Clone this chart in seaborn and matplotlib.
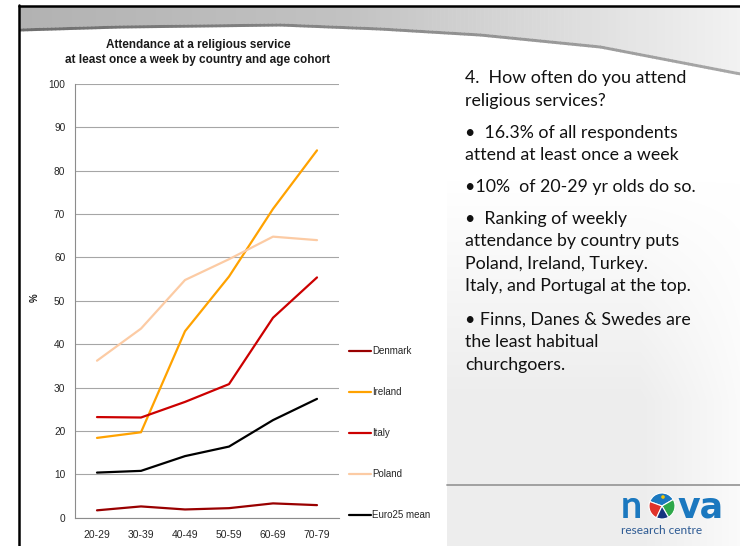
import numpy as np
import pandas as pd
import matplotlib
matplotlib.use("Agg")
import matplotlib.pyplot as plt
from matplotlib.patches import Wedge, Circle
from matplotlib.colors import LinearSegmentedColormap
import seaborn as sns

# data (% attending weekly)
cohorts = ["20-29", "30-39", "40-49", "50-59", "60-69", "70-79"]
denmark = [1.7, 2.6, 1.9, 2.2, 3.3, 2.9]
ireland = [18.4, 19.7, 43.0, 55.6, 71.2, 84.7]
italy = [23.2, 23.1, 26.7, 30.8, 46.1, 55.4]
poland = [36.2, 43.6, 54.8, 59.6, 64.8, 64.0]
euro25 = [10.4, 10.8, 14.2, 16.4, 22.5, 27.4]

countries = ["Denmark", "Ireland", "Italy", "Poland", "Euro25 mean"]
colors = ["#990000", "#FFA200", "#CC0000", "#FCCBA4", "#000000"]

bullets = [
    ("4.  How often do you attend", 78),
    ("religious services?", 101),
    ("\u2022  16.3% of all respondents", 133),
    ("attend at least once a week", 155),
    ("\u202210%  of 20-29 yr olds do so.", 187),
    ("\u2022  Ranking of weekly", 219),
    ("attendance by country puts", 241),
    ("Poland, Ireland, Turkey.", 264),
    ("Italy, and Portugal at the top.", 286),
    ("\u2022 Finns, Danes & Swedes are", 320),
    ("the least habitual", 342),
    ("churchgoers.", 365),
]

rows = []
for name, vals in zip(countries, [denmark, ireland, italy, poland, euro25]):
    for c, v in zip(cohorts, vals):
        rows.append({"cohort": c, "value": v, "country": name})
df = pd.DataFrame(rows)

sns.set_theme(style="white")
plt.rcParams["font.family"] = ["Liberation Sans", "DejaVu Sans"]

W, H = 740, 546
fig = plt.figure(figsize=(W / 100, H / 100), dpi=100)
fig.patch.set_facecolor("white")

# ---- slide background ----
bg = fig.add_axes([0, 0, 1, 1], zorder=-5)
bg.set_xlim(0, W)
bg.set_ylim(H, 0)
bg.set_autoscale_on(False)
bg.axis("off")

# faint grey panel behind the text on the right
yy, xx = np.mgrid[0:H, 0:W]
alpha = np.clip((yy - 180) / 220.0, 0, 1) * (1 - 0.75 * np.clip((xx - 640) / 100.0, 0, 1))
alpha[:, :447] = 0
panel = np.zeros((H, W, 4))
panel[..., :3] = 0.93
panel[..., 3] = alpha
bg.imshow(panel, extent=(0, W, H, 0), aspect="auto", zorder=0)

# header swoosh, drawn as thin vertical strips
cx = np.array([19, 120, 280, 380, 480, 600, 740])
cy = np.array([28, 25, 23, 27, 33, 45, 72])
band_cmap = LinearSegmentedColormap.from_list(
    "sw", [(0, "#b2b2b2"), (0.45, "#c2c2c2"), (0.75, "#dcdcdc"), (1, "#f2f2f2")])
stroke_cmap = LinearSegmentedColormap.from_list("st", ["#6e6e6e", "#8a8a8a", "#a8a8a8"])
edges = np.linspace(19, 740, 181)
for x0, x1 in zip(edges[:-1], edges[1:]):
    xs = np.array([x0, x1 + 0.6])
    ys = np.interp(xs, cx, cy)
    t = (x0 - 19) / 721
    bg.fill_between(xs, 6, ys, color=band_cmap(t), lw=0, zorder=1)
    bg.fill_between(xs, ys, ys + 3, color=stroke_cmap(t), lw=0, zorder=2)

# black frame
bg.plot([18.5, 740], [5.5, 5.5], color="black", lw=1.8, zorder=3)
bg.plot([18.5, 18.5], [5, H], color="black", lw=1.8, zorder=3)

# separator line above the logo
bg.plot([447, 740], [485, 485], color="#9a9a9a", lw=1.3, zorder=3)

# ---- chart ----
ax = fig.add_axes([75 / W, 1 - 517.7 / H, 264 / W, 433.7 / H])
sns.lineplot(data=df, x="cohort", y="value", hue="country", hue_order=countries,
             palette=dict(zip(countries, colors)), linewidth=1.6, sort=False,
             estimator=None, ax=ax, legend=False)
ax.set_xlim(-0.5, 5.5)
ax.set_ylim(0, 100)
ax.set_yticks(range(0, 101, 10))
ax.set_xlabel("")
ax.set_ylabel("")
ax.yaxis.grid(True, color="#a6a6a6", lw=0.8)
ax.set_axisbelow(True)
ax.set_facecolor("none")
for s in ["top", "right"]:
    ax.spines[s].set_visible(False)
for s in ["left", "bottom"]:
    ax.spines[s].set_color("#8c8c8c")
    ax.spines[s].set_linewidth(0.8)
ax.tick_params(axis="y", length=0, pad=7, labelsize=7.3, labelcolor="#262626")
ax.tick_params(axis="x", length=0, pad=9, labelsize=7.5, labelcolor="#262626")

fig.text(198 / W, 1 - 45 / H, "Attendance at a religious service", ha="center", va="center",
         fontsize=8.5, fontweight="bold", color="#1a1a1a")
fig.text(198 / W, 1 - 60 / H, "at least once a week by country and age cohort", ha="center",
         va="center", fontsize=8.5, fontweight="bold", color="#1a1a1a")
fig.text(35 / W, 1 - 298 / H, "%", rotation=90, ha="center", va="center", fontsize=7,
         fontweight="bold", color="#1a1a1a")

handles = [plt.Line2D([], [], color=c, lw=1.6) for c in colors]
fig.legend(handles, countries, loc="upper left", bbox_to_anchor=(349 / W, 1 - 346 / H),
           frameon=False, fontsize=7, labelspacing=3.2, handlelength=2.3,
           handletextpad=0.1, borderpad=0, borderaxespad=0)

# ---- right-hand text ----
for txt, y in bullets:
    fig.text(465 / W, 1 - y / H, txt, ha="left", va="center", fontsize=12.8,
             family=["Lato", "DejaVu Sans"], color="#111111")

# ---- logo ----
blue = "#1b78bf"
fig.text(621 / W, 1 - 507 / H, "n", ha="left", va="center", fontsize=27, fontweight="bold",
         family=["Lato", "DejaVu Sans"], color=blue)
fig.text(677 / W, 1 - 507 / H, "va", ha="left", va="center", fontsize=25, fontweight="bold",
         family=["DejaVu Sans"], color=blue)
fig.text(662 / W, 1 - 531 / H, "research centre", ha="center", va="center", fontsize=8.6,
         family=["Lato", "DejaVu Sans"], color="#2d5a93")
lx, ly, r = 662, 506, 13
bg.add_patch(Wedge((lx, ly), r, 200, 330, facecolor=blue, edgecolor="white", lw=0.8, zorder=4))
bg.add_patch(Wedge((lx, ly), r, 330, 420, facecolor="#2ea84a", edgecolor="white", lw=0.8, zorder=4))
bg.add_patch(Wedge((lx, ly), r, 115, 200, facecolor="#e0332b", edgecolor="white", lw=0.8, zorder=4))
bg.add_patch(Wedge((lx, ly), r, 60, 115, facecolor="#16357f", edgecolor="white", lw=0.8, zorder=4))
bg.add_patch(Circle((lx + 1, ly - 9), 1.8, facecolor="#f5c400", edgecolor="none", zorder=5))

fig.savefig("out.png", dpi=100)
